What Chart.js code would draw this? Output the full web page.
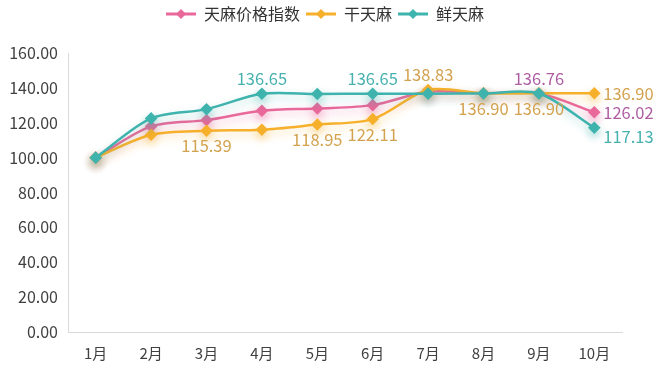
<!DOCTYPE html>
<html>
<head>
<meta charset="utf-8">
<script src="https://cdn.jsdelivr.net/npm/chart.js@4"></script>
<style>
  html, body { margin: 0; padding: 0; background: #fff; }
  #wrap { width: 672px; height: 376px; }
</style>
</head>
<body>
<div id="wrap"><canvas id="priceChart"></canvas></div>
<script>
/* Data */
let months = ["1月", "2月", "3月", "4月", "5月", "6月", "7月", "8月", "9月", "10月"];
let seriesNames = ["天麻价格指数", "干天麻", "鲜天麻"];
let indexValues = [100, 117.9, 121.5, 126.9, 128.2, 130.1, 137.8, 136.9, 136.76, 126.02];
let driedValues = [100, 113.1, 115.39, 116.0, 118.95, 122.11, 138.83, 136.90, 136.90, 136.90];
let freshValues = [100, 122.5, 127.8, 136.65, 136.5, 136.65, 136.7, 136.8, 136.8, 117.13];
let yTicks = [0, 20, 40, 60, 80, 100, 120, 140, 160];

/* Which points get a value label: [series, point, side] */
let labelSpots = [
    [2, 3, "top"], [2, 5, "top"], [2, 9, "rightLow"],
    [1, 2, "bottom"], [1, 4, "bottom"], [1, 5, "bottom"], [1, 6, "top"],
    [1, 7, "bottom"], [1, 8, "bottom"], [1, 9, "right"],
    [0, 8, "top"], [0, 9, "right"]
];

let lineColors = ["#E9699B", "#F6B02B", "#3FB3AD"];
let labelColors = ["#AE5DA3", "#D3A24E", "#46B1AE"];
let glowColors = ["rgba(233,105,155,0.45)", "rgba(246,176,43,0.4)", "rgba(63,179,173,0.4)"];
let fontName = "'Noto Sans CJK SC', 'Noto Sans', sans-serif";

/* Legend marker: line with a diamond */
function legendMark(color) {
    let c = document.createElement("canvas");
    c.width = 30;
    c.height = 12;
    let g = c.getContext("2d");
    g.strokeStyle = color;
    g.lineWidth = 3;
    g.beginPath();
    g.moveTo(0, 6);
    g.lineTo(30, 6);
    g.stroke();
    g.fillStyle = color;
    g.beginPath();
    g.moveTo(15, 1);
    g.lineTo(20, 6);
    g.lineTo(15, 11);
    g.lineTo(10, 6);
    g.closePath();
    g.fill();
    return c;
}

/* Extra room under the legend, and nudge it right */
const legendGap = {
    id: "legendGap",
    beforeInit(chart) {
        let fit = chart.legend.fit;
        chart.legend.fit = function () {
            fit.call(this);
            this.height += 21;
        };
    },
    afterLayout(chart) {
        chart.legend.left += 14;
        chart.legend.right += 14;
    }
};

/* Soft glow under each line */
const glowPlugin = {
    id: "glow",
    beforeDatasetDraw(chart, args) {
        let ctx = chart.ctx;
        ctx.save();
        ctx.shadowColor = glowColors[args.index];
        ctx.shadowBlur = 8;
        ctx.shadowOffsetY = 4;
    },
    afterDatasetDraw(chart) {
        chart.ctx.restore();
    }
};

/* Value labels */
const valueLabels = {
    id: "valueLabels",
    afterDatasetsDraw(chart) {
        let ctx = chart.ctx;
        ctx.save();
        ctx.font = "16.5px " + fontName;
        labelSpots.forEach(function (spot) {
            let s = spot[0], i = spot[1], side = spot[2];
            let pt = chart.getDatasetMeta(s).data[i];
            let val = chart.data.datasets[s].data[i];
            ctx.fillStyle = labelColors[s];
            let x = pt.x, y = pt.y;
            if (side == "top") {
                ctx.textAlign = "center";
                ctx.textBaseline = "bottom";
                y -= 7;
            } else if (side == "bottom") {
                ctx.textAlign = "center";
                ctx.textBaseline = "top";
                y += 7;
            } else {
                ctx.textAlign = "left";
                ctx.textBaseline = "middle";
                x += 9;
                if (side == "rightLow") y += 9;
            }
            ctx.fillText(val.toFixed(2), x, y);
        });
        ctx.restore();
    }
};

function makeSet(k, values, order) {
    return {
        label: seriesNames[k],
        data: values,
        borderColor: lineColors[k],
        backgroundColor: lineColors[k],
        pointBackgroundColor: lineColors[k],
        pointBorderColor: lineColors[k],
        pointStyle: "rectRot",
        pointRadius: 4.5,
        borderWidth: 2.5,
        tension: 0.3,
        order: order
    };
}

new Chart("priceChart", {
    type: "line",
    data: {
        labels: months,
        datasets: [
            makeSet(0, indexValues, 2),
            makeSet(1, driedValues, 1),
            makeSet(2, freshValues, 0)
        ]
    },
    options: {
        responsive: true,
        maintainAspectRatio: false,
        animation: false,
        layout: { padding: { left: 0, right: 50, top: 0, bottom: 2 } },
        plugins: {
            tooltip: { enabled: false },
            legend: {
                position: "top",
                labels: {
                    usePointStyle: true,
                    pointStyleWidth: 30,
                    padding: 6,
                    color: "#333",
                    font: { family: fontName, size: 16 },
                    generateLabels(chart) {
                        return chart.data.datasets.map(function (ds, i) {
                            return {
                                text: ds.label,
                                pointStyle: legendMark(lineColors[i]),
                                fontColor: "#333",
                                lineWidth: 0,
                                datasetIndex: i
                            };
                        });
                    }
                }
            }
        },
        scales: {
            x: {
                offset: true,
                grid: { display: false, drawTicks: false },
                border: { color: "#d9d9d9", width: 1 },
                ticks: { color: "#404040", padding: 12, font: { family: fontName, size: 15 } }
            },
            y: {
                min: 0,
                max: 160,
                afterBuildTicks(scale) {
                    scale.ticks = yTicks.map(function (v) { return { value: v }; });
                },
                afterFit(scale) { scale.width = 68; },
                grid: { display: false, drawTicks: false },
                border: { color: "#d9d9d9", width: 1 },
                ticks: {
                    color: "#404040",
                    padding: 10,
                    font: { family: fontName, size: 16 },
                    callback: function (v) { return Number(v).toFixed(2); }
                }
            }
        }
    },
    plugins: [legendGap, glowPlugin, valueLabels]
});
</script>
</body>
</html>
